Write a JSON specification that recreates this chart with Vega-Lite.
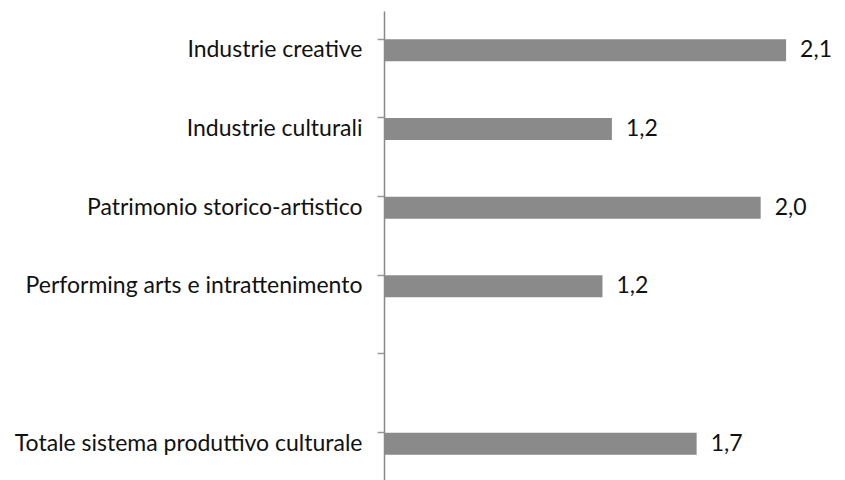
{
  "$schema": "https://vega.github.io/schema/vega-lite/v6.json",
  "autosize": "none",
  "width": 452,
  "height": 472,
  "padding": {"left": 384, "top": 11, "right": 9, "bottom": 0},
  "background": "white",
  "config": {
    "view": {"stroke": null},
    "font": "Lato",
    "locale": {"number": {"decimal": ",", "thousands": ".", "grouping": [3], "currency": ["", " €"]}}
  },
  "data": {
    "values": [
      {"categoria": "Industrie creative", "valore": 2.135},
      {"categoria": "Industrie culturali", "valore": 1.21},
      {"categoria": "Patrimonio storico-artistico", "valore": 2.0},
      {"categoria": "Performing arts e intrattenimento", "valore": 1.16},
      {"categoria": "Totale sistema produttivo culturale", "valore": 1.66}
    ]
  },
  "encoding": {
    "y": {
      "field": "categoria",
      "type": "nominal",
      "sort": null,
      "scale": {
        "domain": ["Industrie creative", "Industrie culturali", "Patrimonio storico-artistico", "Performing arts e intrattenimento", " ", "Totale sistema produttivo culturale"],
        "paddingInner": 0.72,
        "paddingOuter": 0.36
      },
      "axis": {
        "title": null,
        "bandPosition": 0,
        "domainColor": "#888888",
        "domainWidth": 1.5,
        "tickColor": "#999999",
        "tickWidth": 1.5,
        "tickSize": 7,
        "labelPadding": 15,
        "labelFontSize": 23,
        "labelColor": "#111111",
        "labelFont": "Lato",
        "labelLimit": 400
      }
    },
    "x": {
      "field": "valore",
      "type": "quantitative",
      "scale": {"domain": [0, 2.4], "nice": false},
      "axis": null
    }
  },
  "layer": [
    {"mark": {"type": "bar", "color": "#8a8a8a"}},
    {
      "mark": {"type": "text", "align": "left", "baseline": "middle", "dx": 14, "fontSize": 23, "color": "#111111", "font": "Lato"},
      "encoding": {"text": {"field": "valore", "type": "quantitative", "format": ".1f"}}
    }
  ]
}
